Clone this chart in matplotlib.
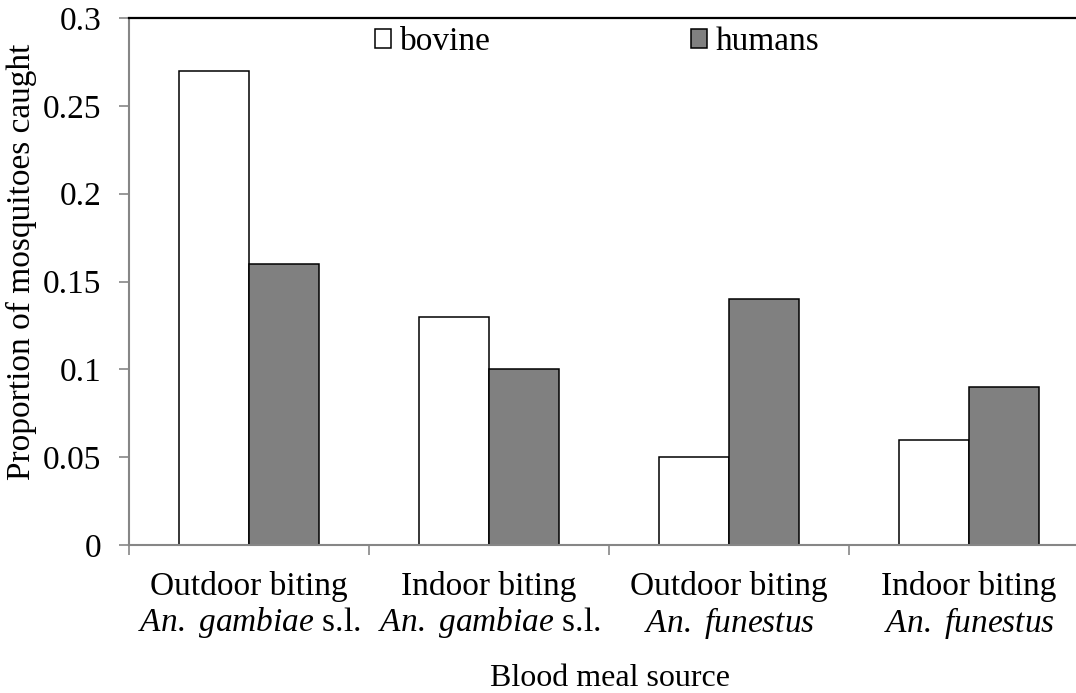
import numpy as np
import matplotlib
matplotlib.use("Agg")
import matplotlib.pyplot as plt

plt.rcParams['font.family'] = ['Liberation Serif', 'DejaVu Serif']
plt.rcParams['mathtext.fontset'] = 'custom'
plt.rcParams['mathtext.rm'] = 'Liberation Serif'
plt.rcParams['mathtext.it'] = 'Liberation Serif:italic'

categories = ["Outdoor biting\n$\\mathit{An.}$ $\\mathit{gambiae}$ s.l.",
              "Indoor biting\n$\\mathit{An.}$ $\\mathit{gambiae}$ s.l.",
              "Outdoor biting\n$\\mathit{An.}$ $\\mathit{funestus}$",
              "Indoor biting\n$\\mathit{An.}$ $\\mathit{funestus}$"]
bovine = [0.27, 0.13, 0.05, 0.06]
humans = [0.16, 0.10, 0.14, 0.09]
yticks = [0, 0.05, 0.1, 0.15, 0.2, 0.25, 0.3]
ytick_labels = ["0", "0.05", "0.1", "0.15", "0.2", "0.25", "0.3"]

FS = 24
grey_axis = "#868686"

fig = plt.figure(figsize=(10.76, 6.93), dpi=100)
# axes runs a little past the right edge, like the cropped original
ax = fig.add_axes([129/1076, 148/693, 960/1076, 527/693])

x = np.arange(len(categories))
w = 0.29
ax.bar(x - w/2, bovine, w, color="white", edgecolor="black", linewidth=1.1, label="bovine")
ax.bar(x + w/2, humans, w, color="#808080", edgecolor="black", linewidth=1.1, label="humans")

ax.set_xlim(-0.5, len(categories) - 0.5)
ax.set_ylim(0, 0.3)
ax.set_yticks(yticks)
ax.set_yticklabels(ytick_labels, fontsize=FS)

ax.set_xticks(x)
ax.set_xticklabels(categories, fontsize=FS, linespacing=1.1)
ax.set_xticks(np.arange(len(categories) + 1) - 0.5, minor=True)
ax.tick_params(axis="x", which="major", length=0, pad=19)
ax.tick_params(axis="x", which="minor", length=7, width=1.2, color=grey_axis, direction="out")
ax.tick_params(axis="y", length=7, width=1.2, color=grey_axis, direction="out", pad=13)

for s in ["left", "bottom"]:
    ax.spines[s].set_color(grey_axis)
    ax.spines[s].set_linewidth(1.5)
ax.spines["top"].set_color("black")
ax.spines["top"].set_linewidth(1.6)
ax.spines["right"].set_visible(False)

ax.set_xlabel("Blood meal source", fontsize=23)
ax.xaxis.set_label_coords(0.501, -0.225)
ax.set_ylabel("Proportion of mosquitoes caught", fontsize=FS)
ax.yaxis.set_label_coords(-0.0958, 0.537)

ax.legend(loc="center", bbox_to_anchor=(0.4875, 0.955), ncol=2, frameon=False,
          fontsize=FS, handlelength=0.5, handleheight=0.5, handletextpad=0.25,
          columnspacing=6.0, borderpad=0)

fig.savefig("out.png", dpi=100)
